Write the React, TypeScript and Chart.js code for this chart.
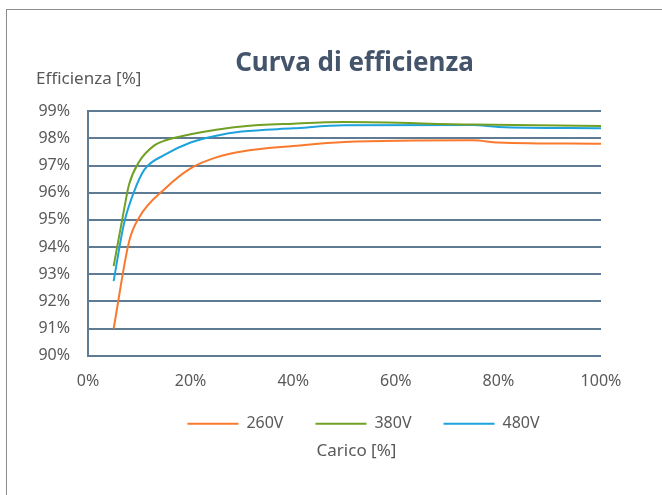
import React, { useEffect, useRef } from "react";
import { Chart, registerables } from "chart.js";

Chart.register(...registerables);

const TITLE = "Curva di efficienza";
const Y_TITLE = "Efficienza [%]";
const X_TITLE = "Carico [%]";

const SERIES_NAMES = ["260V", "380V", "480V"];
const SERIES_COLORS = ["#F97A2E", "#72A025", "#1EA2DC"];

const load260 = [5, 8, 10, 15, 20, 25, 30, 40, 50, 75, 80, 100];
const eff260 = [91.0, 94.2, 95.1, 96.15, 96.9, 97.3, 97.52, 97.72, 97.87, 97.93, 97.85, 97.8];

const load380 = [5, 7, 8, 10, 13, 15, 20, 25, 30, 40, 50, 75, 100];
const eff380 = [93.3, 95.35, 96.3, 97.15, 97.75, 97.92, 98.15, 98.32, 98.44, 98.54, 98.6, 98.51, 98.46];

const load480 = [5, 7, 9, 11, 15, 20, 25, 30, 40, 50, 75, 80, 100];
const eff480 = [92.75, 94.85, 96.05, 96.85, 97.4, 97.85, 98.1, 98.25, 98.37, 98.48, 98.49, 98.42, 98.37];

const X_MIN = 0;
const X_MAX = 100;
const X_STEP = 20;
const Y_MIN = 90;
const Y_MAX = 99;
const Y_STEP = 1;

const FONT = "'Noto Sans', 'DejaVu Sans', sans-serif";
const TEXT_COLOR = "#595959";
const TITLE_COLOR = "#44546A";
const GRID_COLOR = "#5F7A93";

const toPoints = (xs: number[], ys: number[]) => xs.map((x, i) => ({ x, y: ys[i] }));

const layoutTweaks = {
  id: "layoutTweaks",
  afterLayout(chart: any) {
    const ca = chart.chartArea;
    const cx = (ca.left + ca.right) / 2;
    const t = chart.titleBlock;
    if (t) {
      const dx = cx + 10 - (t.left + t.right) / 2;
      t.left += dx;
      t.right += dx;
    }
    const lg = chart.legend;
    if (lg) {
      const dx = cx + 19 - (lg.left + lg.right) / 2;
      lg.left += dx;
      lg.right += dx;
      const dy = ca.bottom + 57 - (lg.top + lg.bottom) / 2;
      lg.top += dy;
      lg.bottom += dy;
    }
  },
  afterDraw(chart: any) {
    const ctx = chart.ctx;
    const ca = chart.chartArea;
    ctx.save();
    ctx.fillStyle = TEXT_COLOR;
    ctx.font = `17px ${FONT}`;
    ctx.textBaseline = "middle";
    ctx.textAlign = "left";
    ctx.fillText(Y_TITLE, ca.left - 52, ca.top - 32);
    ctx.textAlign = "center";
    ctx.fillText(X_TITLE, (ca.left + ca.right) / 2 + 12, ca.bottom + 95);
    ctx.restore();
  },
};

export default function App() {
  const canvasRef = useRef<HTMLCanvasElement | null>(null);

  useEffect(() => {
    if (!canvasRef.current) return;
    const datasets = [
      toPoints(load260, eff260),
      toPoints(load380, eff380),
      toPoints(load480, eff480),
    ].map((data, i) => ({
      label: SERIES_NAMES[i],
      data,
      borderColor: SERIES_COLORS[i],
      backgroundColor: SERIES_COLORS[i],
      borderWidth: 2,
      pointRadius: 0,
      pointStyle: "line" as const,
      cubicInterpolationMode: "monotone" as const,
      fill: false,
    }));

    const chart = new Chart(canvasRef.current, {
      type: "line",
      data: { datasets },
      plugins: [layoutTweaks],
      options: {
        animation: false,
        responsive: false,
        devicePixelRatio: 1,
        layout: { padding: { left: 28, right: 61, top: 0, bottom: 30 } },
        plugins: {
          title: {
            display: true,
            text: TITLE,
            color: TITLE_COLOR,
            font: { family: FONT, size: 26, weight: "bold" },
            padding: { top: 48, bottom: 32 },
          },
          legend: {
            display: true,
            position: "bottom",
            labels: {
              usePointStyle: true,
              pointStyleWidth: 51,
              boxHeight: 15,
              padding: 32,
              color: TEXT_COLOR,
              font: { family: FONT, size: 16 },
            },
          },
          tooltip: { enabled: false },
        },
        scales: {
          x: {
            type: "linear",
            min: X_MIN,
            max: X_MAX,
            grid: { display: false, drawTicks: false },
            border: { display: false },
            ticks: {
              stepSize: X_STEP,
              padding: 16,
              color: TEXT_COLOR,
              font: { family: FONT, size: 16 },
              callback: (v: any) => `${v}%`,
            },
          },
          y: {
            min: Y_MIN,
            max: Y_MAX,
            afterFit: (scale: any) => {
              scale.width = 60;
            },
            grid: { color: GRID_COLOR, lineWidth: 2, drawTicks: false },
            border: { display: true, color: GRID_COLOR, width: 2 },
            ticks: {
              stepSize: Y_STEP,
              padding: 18,
              color: TEXT_COLOR,
              font: { family: FONT, size: 16 },
              callback: (v: any) => `${v}%`,
            },
          },
        },
      },
    });
    return () => chart.destroy();
  }, []);

  return (
    <div style={{ position: "absolute", left: 0, top: 0, width: 662, height: 495, background: "#fff" }}>
      <div
        style={{
          position: "absolute",
          left: 6,
          top: 9,
          width: 700,
          height: 520,
          border: "1px solid #8C8C8C",
          boxSizing: "border-box",
        }}
      />
      <canvas ref={canvasRef} width={662} height={495} style={{ position: "absolute", left: 0, top: 0, width: 662, height: 495 }} />
    </div>
  );
}
